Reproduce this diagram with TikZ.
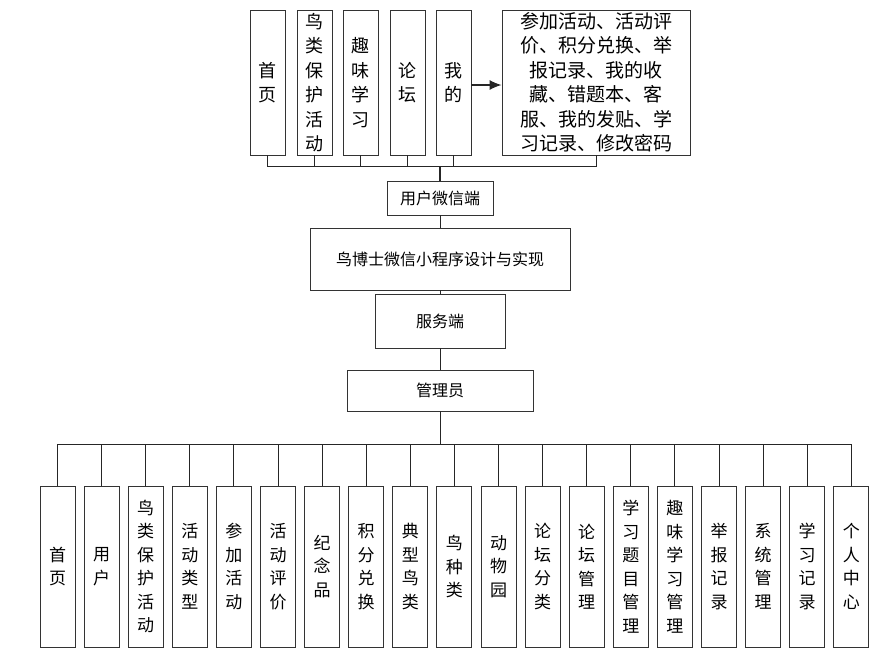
\documentclass[tikz,border=0pt]{standalone}
\usepackage{fontspec}
\setmainfont{Noto Sans CJK SC}
\usetikzlibrary{positioning, calc, arrows.meta}

\begin{document}
\begin{tikzpicture}[x=1pt, y=-1pt,
    col/.style={draw=black!80, line width=0.9pt, minimum width=35pt, inner sep=0pt,
      align=center, font=\fontsize{17}{23.5}\selectfont},
    bar/.style={draw=black!80, line width=0.9pt, inner sep=0pt,
      font=\fontsize{16}{18}\selectfont},
    link/.style={draw=black!85, line width=0.9pt}]
  \useasboundingbox (0,0) rectangle (894,659);

  % USER SIDE
  \foreach \txt [count=\i] in {首\\页, 鸟\\类\\保\\护\\活\\动, 趣\\味\\学\\习, 论\\坛, 我\\的} {
    \pgfmathsetmacro{\cx}{{267.5,314.5,360.5,407.5,453.5}[\i-1]}
    \node [col, minimum height=145pt, font=\fontsize{18}{24.5}\selectfont] (t\i) at (\cx,82.5) {\txt};
  }
  \node [col, minimum width=188pt, minimum height=145pt, font=\fontsize{19}{24.5}\selectfont] (mine) at (596,82.5)
    {参加活动、活动评\\价、积分兑换、举\\报记录、我的收\\藏、错题本、客\\服、我的发贴、学\\习记录、修改密码};

  \node [bar, minimum width=106pt, minimum height=34pt] (wechat) at (440,198) {用户微信端};
  \node [bar, minimum width=260pt, minimum height=62pt] (system) at (440,259) {鸟博士微信小程序设计与实现};
  \node [bar, minimum width=130pt, minimum height=54pt] (server) at (440,321) {服务端};
  \node [bar, minimum width=186pt, minimum height=41pt] (admin) at (440,390.5) {管理员};

  \coordinate (tbus) at (440,166);
  \coordinate (bbus) at (440,444);

  \foreach \i in {1,...,5}
    \draw [link] (t\i.south) |- (tbus);
  \draw [link] (mine.south) |- (tbus);
  \draw [link, line width=1.5pt] (tbus) -- (wechat.north);
  \draw [link, line width=1.2pt, -{Latex[length=12pt, width=10pt]}] (t5.east |- 0,85) -- (mine.west |- 0,85);
  \draw [link] (wechat) -- (system);
  \draw [link] (system) -- (server);
  \draw [link] (server) -- (admin);
  \draw [link] (admin) -- (bbus);

  % ADMIN SIDE
  \foreach \txt [count=\i] in {首\\页, 用\\户, 鸟\\类\\保\\护\\活\\动, 活\\动\\类\\型, 参\\加\\活\\动,
      活\\动\\评\\价, 纪\\念\\品, 积\\分\\兑\\换, 典\\型\\鸟\\类, 鸟\\种\\类, 动\\物\\园,
      论\\坛\\分\\类, 论\\坛\\管\\理, 学\\习\\题\\目\\管\\理, 趣\\味\\学\\习\\管\\理,
      举\\报\\记\\录, 系\\统\\管\\理, 学\\习\\记\\录, 个\\人\\中\\心} {
    \node [col, minimum height=161pt] (b\i) at ({57.5+44.1*(\i-1)},566.5) {\txt};
    \draw [link] (b\i.north) |- (bbus);
  }
\end{tikzpicture}
\end{document}
